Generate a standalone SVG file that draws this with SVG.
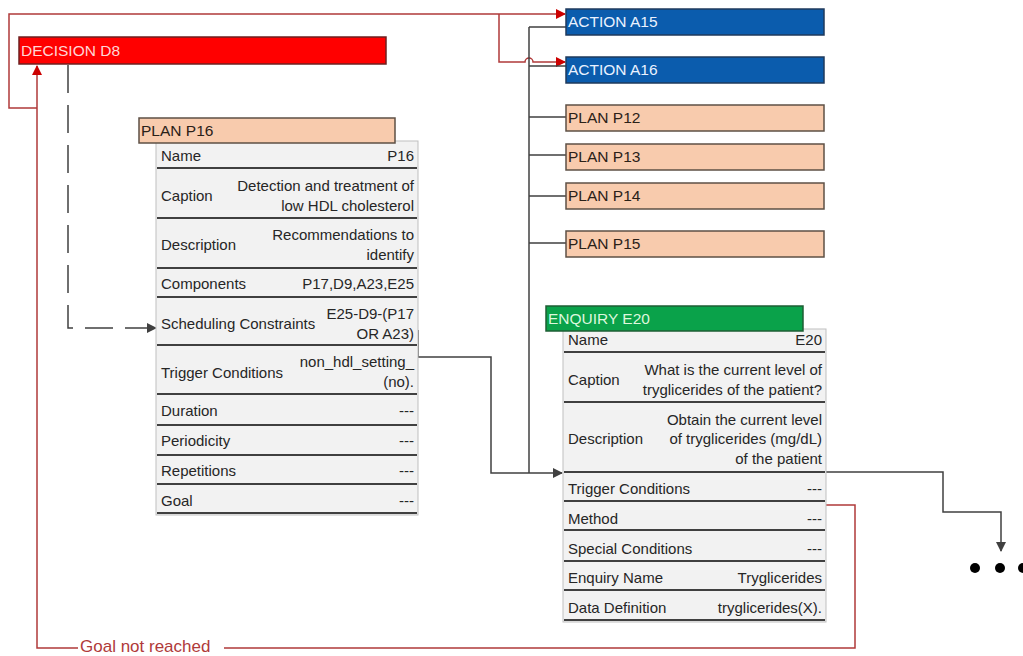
<svg xmlns="http://www.w3.org/2000/svg" width="1023" height="656" viewBox="0 0 1023 656">
  <style>
    .hdr { font-family: "Liberation Sans", Arial, sans-serif; font-size: 15.5px; }
    .cell { font-family: "Liberation Sans", Arial, sans-serif; font-size: 15px; fill: #262626; }
    .val { text-anchor: end; }
    .tbl { fill: #F2F2F2; stroke: #BFBFBF; stroke-width: 1; }
    .sep { stroke: #404040; stroke-width: 2; }
    .peach { fill: #F8CBAD; stroke: #5E5045; stroke-width: 1.5; }
    .blue { fill: #0B5CAD; stroke: #1F3A5C; stroke-width: 1.5; }
    .gray-line { fill: none; stroke: #404040; stroke-width: 1.5; }
    .red-line { fill: none; stroke: #B03A3A; stroke-width: 1.5; }
  </style>
  <defs>
    <marker id="arrowGray" markerWidth="10" markerHeight="10" refX="9" refY="5" orient="auto" markerUnits="userSpaceOnUse">
      <path d="M0,0 L10,5 L0,10 Z" fill="#404040"/>
    </marker>
    <marker id="arrowRed" markerWidth="10" markerHeight="10" refX="9" refY="5" orient="auto" markerUnits="userSpaceOnUse">
      <path d="M0,0 L10,5 L0,10 Z" fill="#CC0000"/>
    </marker>
  </defs>

  <rect width="1023" height="656" fill="#FFFFFF"/>

  <!-- connectors -->
  <g id="connectors">
    <!-- D8 to actions A15 / A16 -->
    <path class="red-line" d="M37,108 H9 V14 H565" marker-end="url(#arrowRed)"/>
    <path class="red-line" d="M499,14 V62 H525 A4,4 0 0 1 533,62 H565" marker-end="url(#arrowRed)"/>
    <!-- goal not reached loop back to D8 -->
    <path class="red-line" d="M826,505 H855 V648 H37 V66" marker-end="url(#arrowRed)"/>
    <!-- dashed D8 to scheduling constraints -->
    <path class="gray-line" d="M68,65 V328 H156" stroke-dasharray="28 12" marker-end="url(#arrowGray)"/>
    <!-- component tree -->
    <path class="gray-line" d="M529,27 V473"/>
    <path class="gray-line" d="M529,27 H566 M529,66 H566 M529,117 H566 M529,155 H566 M529,196 H566 M529,243 H566"/>
    <!-- P16 to E20 -->
    <path class="gray-line" d="M418,330 V357 H491 V473 H562" marker-end="url(#arrowGray)"/>
    <!-- E20 onward -->
    <path class="gray-line" d="M826,472 H943 V512 H1001 V551" marker-end="url(#arrowGray)"/>
    <rect x="78" y="639" width="146" height="17" fill="#FFFFFF"/>
    <text x="80" y="652" font-family="'Liberation Sans', Arial, sans-serif" font-size="17" fill="#B03A3A">Goal not reached</text>
  </g>

  <!-- continuation dots -->
  <g id="ellipsis" fill="#000000">
    <circle cx="975" cy="568" r="5"/>
    <circle cx="1000" cy="568" r="5"/>
    <circle cx="1023" cy="568" r="5"/>
  </g>

  <g id="decision-d8">
    <rect x="19" y="37" width="367" height="27" fill="#FF0000" stroke="#6E2020" stroke-width="1.5"/>
    <text class="hdr" x="21" y="56" fill="#FFD6D6">DECISION D8</text>
  </g>

  <g id="action-a15">
    <rect class="blue" x="566" y="9" width="258" height="26"/>
    <text class="hdr" x="568" y="27" fill="#EAF2FF">ACTION A15</text>
  </g>
  <g id="action-a16">
    <rect class="blue" x="566" y="57" width="258" height="26"/>
    <text class="hdr" x="568" y="75" fill="#EAF2FF">ACTION A16</text>
  </g>

  <g id="plan-p12">
    <rect class="peach" x="566" y="105" width="258" height="26"/>
    <text class="hdr" x="568" y="123" fill="#2B2118">PLAN P12</text>
  </g>
  <g id="plan-p13">
    <rect class="peach" x="566" y="144" width="258" height="26"/>
    <text class="hdr" x="568" y="162" fill="#2B2118">PLAN P13</text>
  </g>
  <g id="plan-p14">
    <rect class="peach" x="566" y="183" width="258" height="26"/>
    <text class="hdr" x="568" y="201" fill="#2B2118">PLAN P14</text>
  </g>
  <g id="plan-p15">
    <rect class="peach" x="566" y="231" width="258" height="26"/>
    <text class="hdr" x="568" y="249" fill="#2B2118">PLAN P15</text>
  </g>

  <g id="plan-p16">
    <rect class="tbl" x="156" y="141" width="262" height="374"/>
    <rect class="peach" x="139" y="118" width="256" height="25"/>
    <text class="hdr" x="141" y="136" fill="#2B2118">PLAN P16</text>
    <g class="sep">
      <line x1="157" y1="168" x2="417" y2="168"/>
      <line x1="157" y1="218" x2="417" y2="218"/>
      <line x1="157" y1="268" x2="417" y2="268"/>
      <line x1="157" y1="297" x2="417" y2="297"/>
      <line x1="157" y1="345" x2="417" y2="345"/>
      <line x1="157" y1="394" x2="417" y2="394"/>
      <line x1="157" y1="425" x2="417" y2="425"/>
      <line x1="157" y1="455" x2="417" y2="455"/>
      <line x1="157" y1="484" x2="417" y2="484"/>
      <line x1="157" y1="513" x2="417" y2="513"/>
    </g>
    <text class="cell" x="161" y="161">Name</text>
    <text class="cell val" x="414" y="161">P16</text>
    <text class="cell" x="161" y="201">Caption</text>
    <text class="cell val" x="414" y="191">Detection and treatment of</text>
    <text class="cell val" x="414" y="211">low HDL cholesterol</text>
    <text class="cell" x="161" y="250">Description</text>
    <text class="cell val" x="414" y="240">Recommendations to</text>
    <text class="cell val" x="414" y="260">identify</text>
    <text class="cell" x="161" y="289">Components</text>
    <text class="cell val" x="414" y="289">P17,D9,A23,E25</text>
    <text class="cell" x="161" y="329">Scheduling Constraints</text>
    <text class="cell val" x="414" y="319">E25-D9-(P17</text>
    <text class="cell val" x="414" y="339">OR A23)</text>
    <text class="cell" x="161" y="378">Trigger Conditions</text>
    <text class="cell val" x="414" y="367">non_hdl_setting_</text>
    <text class="cell val" x="414" y="387">(no).</text>
    <text class="cell" x="161" y="416">Duration</text>
    <text class="cell val" x="414" y="416">---</text>
    <text class="cell" x="161" y="446">Periodicity</text>
    <text class="cell val" x="414" y="446">---</text>
    <text class="cell" x="161" y="476">Repetitions</text>
    <text class="cell val" x="414" y="476">---</text>
    <text class="cell" x="161" y="506">Goal</text>
    <text class="cell val" x="414" y="506">---</text>
  </g>

  <g id="enquiry-e20">
    <rect class="tbl" x="563" y="329" width="263" height="293"/>
    <rect x="546" y="306" width="257" height="25" fill="#0AA24A" stroke="#1E5E34" stroke-width="1.5"/>
    <text class="hdr" x="548" y="324" fill="#DDF7DD">ENQUIRY E20</text>
    <g class="sep">
      <line x1="564" y1="352" x2="825" y2="352"/>
      <line x1="564" y1="402" x2="825" y2="402"/>
      <line x1="564" y1="472" x2="825" y2="472"/>
      <line x1="564" y1="501" x2="825" y2="501"/>
      <line x1="564" y1="530" x2="825" y2="530"/>
      <line x1="564" y1="561" x2="825" y2="561"/>
      <line x1="564" y1="590" x2="825" y2="590"/>
      <line x1="564" y1="620" x2="825" y2="620"/>
    </g>
    <text class="cell" x="568" y="345">Name</text>
    <text class="cell val" x="822" y="345">E20</text>
    <text class="cell" x="568" y="385">Caption</text>
    <text class="cell val" x="822" y="375">What is the current level of</text>
    <text class="cell val" x="822" y="395">tryglicerides of the patient?</text>
    <text class="cell" x="568" y="444">Description</text>
    <text class="cell val" x="822" y="425">Obtain the current level</text>
    <text class="cell val" x="822" y="444">of tryglicerides (mg/dL)</text>
    <text class="cell val" x="822" y="464">of the patient</text>
    <text class="cell" x="568" y="494">Trigger Conditions</text>
    <text class="cell val" x="822" y="494">---</text>
    <text class="cell" x="568" y="524">Method</text>
    <text class="cell val" x="822" y="524">---</text>
    <text class="cell" x="568" y="554">Special Conditions</text>
    <text class="cell val" x="822" y="554">---</text>
    <text class="cell" x="568" y="583">Enquiry Name</text>
    <text class="cell val" x="822" y="583">Tryglicerides</text>
    <text class="cell" x="568" y="613">Data Definition</text>
    <text class="cell val" x="822" y="613">tryglicerides(X).</text>
  </g>
</svg>
